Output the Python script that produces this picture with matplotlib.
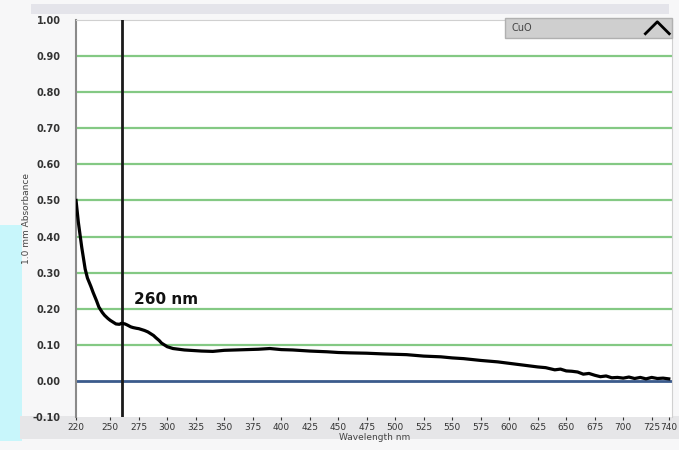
import matplotlib.pyplot as plt
from matplotlib.patches import Rectangle

# Espectro UV-Vis CuO
longitud_onda = [220, 222, 225, 228, 230, 233, 235, 238, 240, 243, 245, 248, 250, 253, 255,
                 258, 260, 263, 265, 268, 270, 273, 275, 278, 280, 283, 285, 288, 290, 293,
                 295, 298, 300, 305, 310, 315, 320, 330, 340, 350, 360, 370, 380, 390, 400,
                 410, 425, 440, 450, 460, 475, 490, 500, 510, 525, 540, 550, 560, 575, 590,
                 600, 610, 625, 632, 640, 645, 650, 655, 660, 665, 670, 675, 680, 685, 690,
                 695, 700, 705, 710, 715, 720, 725, 730, 735, 740]
absorbancia = [0.500, 0.440, 0.370, 0.310, 0.285, 0.262, 0.245, 0.222, 0.205, 0.190, 0.182,
               0.173, 0.168, 0.162, 0.158, 0.157, 0.160, 0.158, 0.155, 0.150, 0.148, 0.146,
               0.145, 0.142, 0.140, 0.136, 0.132, 0.126, 0.120, 0.112, 0.105, 0.099, 0.095,
               0.090, 0.088, 0.086, 0.085, 0.083, 0.082, 0.085, 0.086, 0.087, 0.088, 0.090,
               0.087, 0.086, 0.083, 0.081, 0.079, 0.078, 0.077, 0.075, 0.074, 0.073, 0.069,
               0.067, 0.064, 0.062, 0.057, 0.053, 0.049, 0.045, 0.039, 0.037, 0.031, 0.033,
               0.028, 0.027, 0.025, 0.019, 0.021, 0.016, 0.012, 0.014, 0.009, 0.010, 0.008,
               0.011, 0.007, 0.010, 0.006, 0.010, 0.007, 0.008, 0.006]

ticks_x = [220, 250, 275, 300, 325, 350, 375, 400, 425, 450, 475, 500, 525, 550, 575,
           600, 625, 650, 675, 700, 725, 740]
ticks_y = [-0.10, 0.00, 0.10, 0.20, 0.30, 0.40, 0.50, 0.60, 0.70, 0.80, 0.90, 1.00]
lineas_verdes = [0.10, 0.20, 0.30, 0.40, 0.50, 0.60, 0.70, 0.80, 0.90]
pico = 260

fig = plt.figure(figsize=(6.79, 4.5), dpi=100, facecolor='#f7f7f8')

# franja cian a la izquierda y barras grises de la ventana
fig.patches.append(Rectangle((0, 0.02), 0.032, 0.48, transform=fig.transFigure,
                             facecolor='#c8f6fb', edgecolor='none', zorder=-5))
fig.patches.append(Rectangle((0.03, 0.025), 0.97, 0.05, transform=fig.transFigure,
                             facecolor='#e6e6e8', edgecolor='none', zorder=-5))
fig.patches.append(Rectangle((0.045, 0.97), 0.94, 0.02, transform=fig.transFigure,
                             facecolor='#e4e4ea', edgecolor='none', zorder=-5))

ax = fig.add_axes([0.112, 0.073, 0.878, 0.883])
ax.set_facecolor('white')

for y in lineas_verdes:
    ax.axhline(y, color='#84c984', lw=1.6, zorder=1)
ax.axhline(0, color='#3b5b8c', lw=2, zorder=2)
ax.axvline(pico, color='#1a1a1a', lw=2, zorder=3)
ax.plot(longitud_onda, absorbancia, color='black', lw=2.3, zorder=4)

ax.text(271, 0.225, f'{pico} nm', fontsize=11, fontweight='bold', va='center', color='#111111')

ax.set_xlim(220, 743)
ax.set_ylim(-0.10, 1.00)
ax.set_xticks(ticks_x)
ax.set_xticklabels([str(t) for t in ticks_x], fontsize=6.5, color='#333333')
ax.set_yticks(ticks_y)
ax.set_yticklabels([f'{t:.2f}' for t in ticks_y], fontsize=7, color='#333333', fontweight='bold')
ax.tick_params(axis='x', length=2, pad=2, color='#333333')
ax.tick_params(axis='y', length=0, pad=11)

for lado in ['top', 'right']:
    ax.spines[lado].set_color('#d0d0d0')
ax.spines['left'].set_color('#8a8a8a')
ax.spines['left'].set_linewidth(1.5)
ax.spines['bottom'].set_visible(False)

ax.set_xlabel('Wavelength nm', fontsize=6.5, color='#444444', labelpad=1)
ax.set_ylabel('1.0 mm Absorbance', fontsize=6.5, color='#444444', labelpad=1)

# caja "CuO"
ax.add_patch(Rectangle((0.72, 0.955), 0.28, 0.05, transform=ax.transAxes,
                       facecolor='#cfcfcf', edgecolor='#b0b0b0', zorder=5, clip_on=False))
ax.text(0.73, 0.98, 'CuO', transform=ax.transAxes, fontsize=7, color='#444444',
        va='center', zorder=6)
ax.plot([0.955, 0.975, 0.995], [0.965, 0.995, 0.965], transform=ax.transAxes,
        color='black', lw=2, zorder=6, clip_on=False)

fig.savefig('out.png', dpi=100, facecolor=fig.get_facecolor())
